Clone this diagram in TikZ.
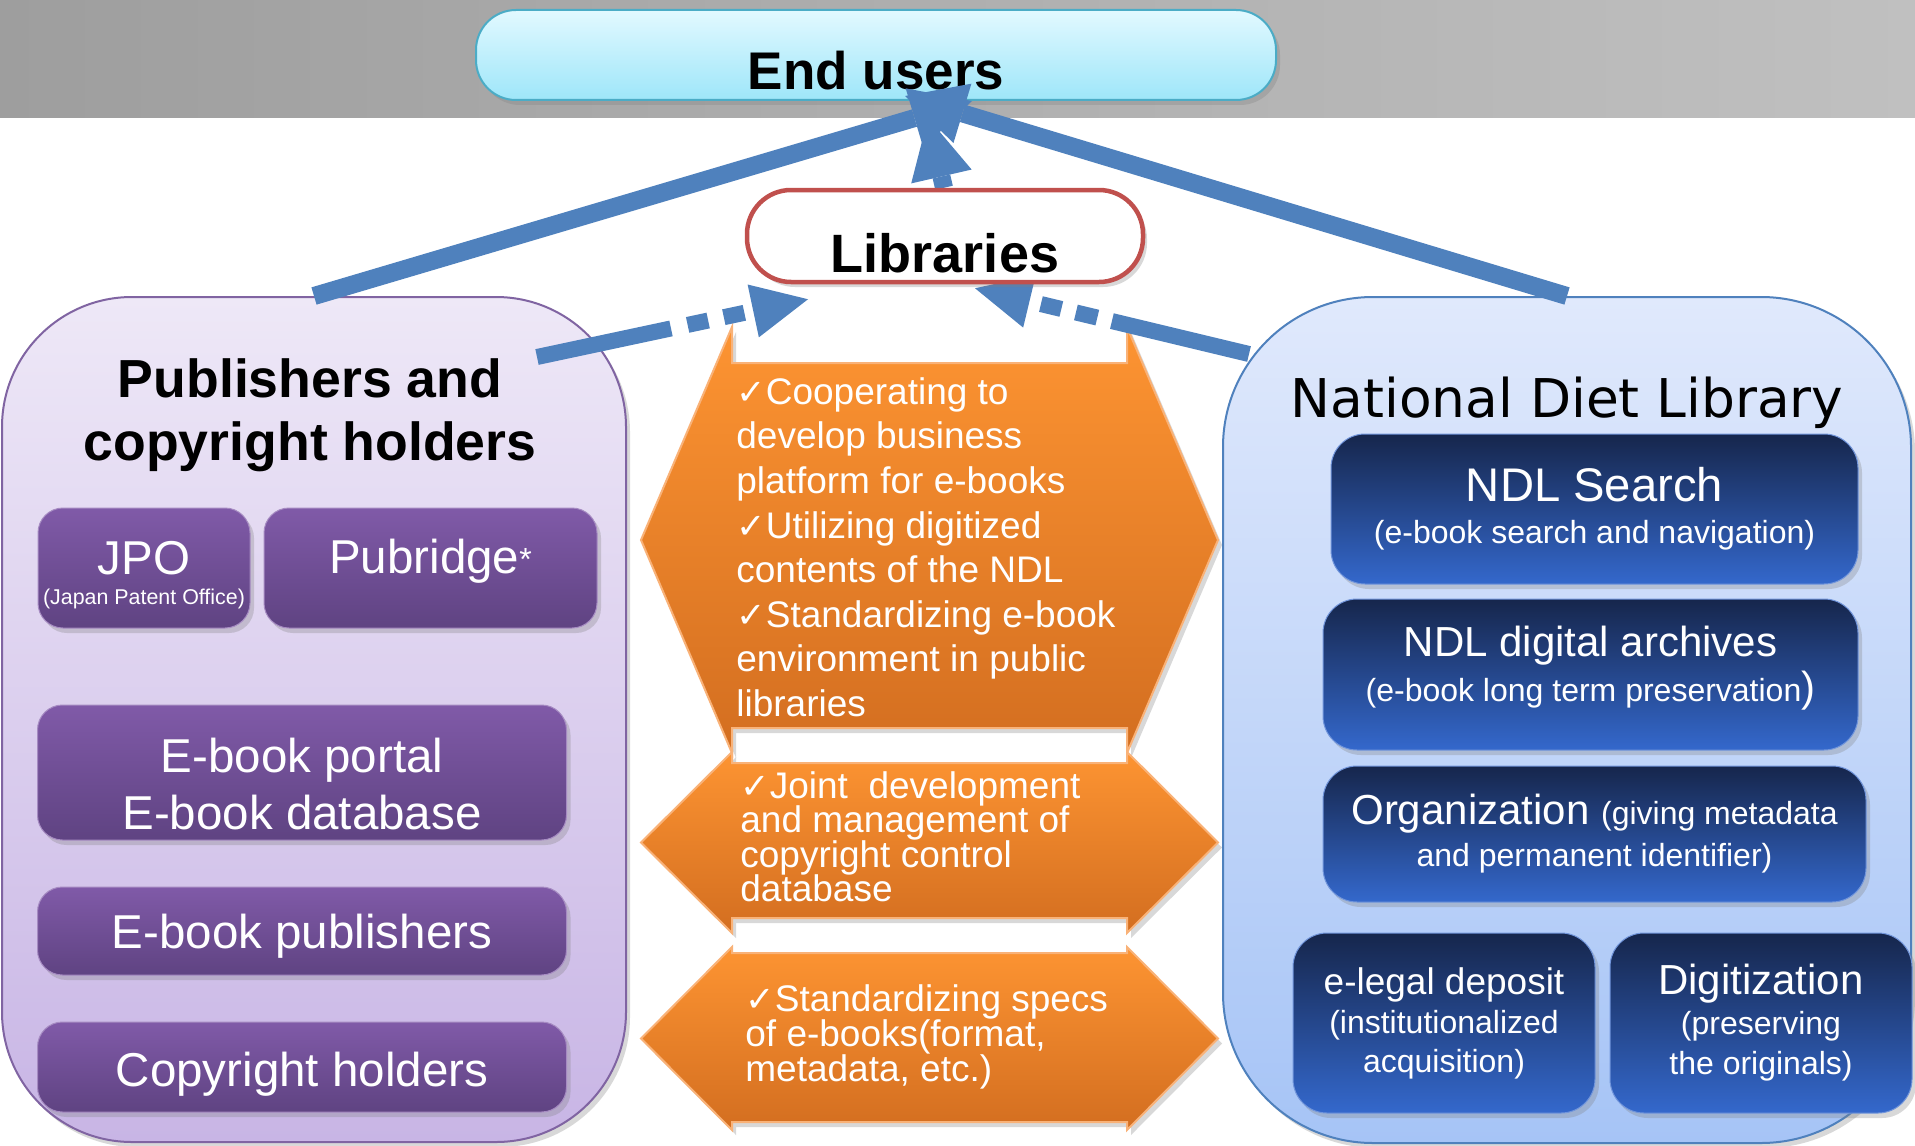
\documentclass[tikz,border=0pt]{standalone}
\usepackage{fontspec}
\setmainfont{Liberation Sans}
\newfontfamily\ndlfont{DejaVu Sans}
\newfontfamily\tickfont[Scale=0.95]{DejaVu Sans}
\usetikzlibrary{arrows.meta,shadows,calc}
\definecolor{bandleft}{RGB}{158,158,158}
\definecolor{bandright}{RGB}{192,192,192}
\definecolor{usertop}{RGB}{226,249,255}
\definecolor{userbot}{RGB}{158,230,249}
\definecolor{useredge}{RGB}{75,172,198}
\definecolor{libred}{RGB}{192,80,77}
\definecolor{linkblue}{RGB}{79,129,189}
\definecolor{pubtop}{RGB}{238,232,247}
\definecolor{pubbot}{RGB}{200,181,229}
\definecolor{pubedge}{RGB}{128,100,162}
\definecolor{purpletop}{RGB}{128,90,168}
\definecolor{purplebot}{RGB}{95,67,130}
\definecolor{ndltop}{RGB}{224,233,252}
\definecolor{ndlbot}{RGB}{166,196,246}
\definecolor{navytop}{RGB}{22,38,76}
\definecolor{navybot}{RGB}{52,104,204}
\definecolor{orangetop}{RGB}{253,148,50}
\definecolor{orangebot}{RGB}{211,110,32}
\definecolor{orangeedge}{RGB}{249,178,120}
\newcommand{\fs}[2]{\fontsize{#1}{#2}\selectfont}
\newcommand{\tick}{{\tickfont ✓}}
\setlength{\lineskiplimit}{-50pt}
\pgfdeclarelayer{front}
\pgfsetlayers{main,front}

\begin{document}
\begin{tikzpicture}[x=0.5pt,y=-0.5pt,
  softshadow/.style={drop shadow={shadow xshift=2pt,shadow yshift=-2.5pt,opacity=0.3}},
  pubpanel/.style={draw=pubedge,line width=1pt,rounded corners=65pt,top color=pubtop,bottom color=pubbot,minimum width=312pt,minimum height=422.5pt,softshadow},
  ndlpanel/.style={draw=linkblue,line width=1pt,rounded corners=75pt,top color=ndltop,bottom color=ndlbot,minimum width=344pt,minimum height=423pt,softshadow},
  purplebox/.style={rounded corners=12.5pt,top color=purpletop,bottom color=purplebot,draw=purpletop!70!white,line width=0.5pt,text=white,align=center,inner sep=0pt,softshadow,font=\fs{23.75}{28.5}},
  navybox/.style={rounded corners=17pt,top color=navytop,bottom color=navybot,draw=navybot!70!white,line width=0.5pt,text=white,align=center,inner sep=0pt,softshadow},
  userbox/.style={draw=useredge,line width=1pt,rounded corners=20pt,top color=usertop,bottom color=userbot,minimum width=400pt,minimum height=45pt,inner sep=0pt,text height=35pt,text depth=0pt,font=\bfseries\fs{26.5}{30},softshadow},
  libbox/.style={draw=libred,line width=2.25pt,fill=white,rounded corners=22pt,minimum width=198pt,minimum height=46pt,inner sep=0pt,text height=36pt,text depth=0pt,font=\bfseries\fs{27}{30},softshadow},
  bigarrow/.style={linkblue,line width=9pt,-{Triangle[length=30pt,width=31pt,line width=0pt]}},
  dasharrow/.style={linkblue,line width=8pt,-{Triangle[length=28pt,width=27pt,line width=0pt]}},
  orangeblock/.style={top color=orangetop,bottom color=orangebot,draw=orangeedge,line width=1pt,softshadow},
  orangetext/.style={text=white,align=left,anchor=north west,inner sep=0pt}]
\useasboundingbox (0,0) rectangle (1915,1145);
\fill[white] (0,0) rectangle (1915,1145);
\shade[left color=bandleft,right color=bandright] (0,0) rectangle (1915,118);

% the two sides
\node[pubpanel] (pubs) at (314,719.5) {};
\node[ndlpanel] (ndl) at (1567,720) {};

\node[align=center,inner sep=0pt,font=\bfseries\fs{26.8}{31.5}] (pubtitle) at (310,415) {Publishers and\\copyright holders};
\node[purplebox,minimum width=106pt,minimum height=60pt,font=\fs{23.75}{15}] (jpo) at (144,568) {\rule{0pt}{23.3pt}JPO\\{\fs{10.7}{15}(Japan Patent Office)}};
\node[purplebox,minimum width=166.5pt,minimum height=60pt,text height=17.4pt,text depth=12.4pt] (pubridge) at (430.5,568) {Pubridge{\fs{16}{16}\raisebox{1.5pt}{*}}};
\node[purplebox,minimum width=264.5pt,minimum height=67.5pt] (portal) at (302,772.5) {\rule{0pt}{28.5pt}E-book portal\\E-book database};
\node[purplebox,minimum width=264.5pt,minimum height=44pt,text depth=0pt] (epub) at (302,931) {E-book publishers};
\node[purplebox,minimum width=264.5pt,minimum height=45pt,text height=19pt,text depth=0pt] (holders) at (302,1067) {Copyright holders};

\node[anchor=base,inner sep=0pt,font=\ndlfont\fs{26.7}{30}] (ndltitle) at (1567,417) {National Diet Library};
\node[navybox,minimum width=263.5pt,minimum height=75pt,font=\fs{23.6}{21}] (search) at (1594.5,509) {NDL Search\\{\fs{16}{21}(e-book search and navigation)}};
\node[navybox,minimum width=267.5pt,minimum height=75.5pt,font=\fs{21}{22.5}] (archives) at (1590.5,674.5) {NDL digital archives\\{\fs{16}{22.5}(e-book long term preservation})\rule[-10.5pt]{0pt}{10.5pt}};
\node[navybox,minimum width=271.5pt,minimum height=68pt,font=\fs{21}{21}] (organize) at (1594.5,834) {Organization {\fs{16}{21}(giving metadata}\\{\fs{16}{21}and permanent identifier)}};
\node[navybox,minimum width=151pt,minimum height=90pt,font=\fs{16}{19.5}] (deposit) at (1444,1023) {{\fs{18.5}{19.5}e-legal deposit}\\(institutionalized\\acquisition)};
\node[navybox,minimum width=151pt,minimum height=90pt,font=\fs{16}{20}] (digitize) at (1761,1023) {{\fs{21}{20}Digitization}\\(preserving\\the originals)};

% cooperation in the middle
\draw[orangeblock] (732,363) -- (1127,363) -- (1127,327) -- (1218,540) -- (1127,753) -- (1127,728) -- (732,728) -- (732,753) -- (641,540) -- (732,327) -- cycle;
\draw[orangeblock] (732,763) -- (1127,763) -- (1127,752) -- (1218,842.5) -- (1127,933) -- (1127,918) -- (732,918) -- (732,933) -- (641,842.5) -- (732,752) -- cycle;
\draw[orangeblock] (732,953) -- (1127,953) -- (1127,947) -- (1218,1038.5) -- (1127,1130) -- (1127,1122) -- (732,1122) -- (732,1130) -- (641,1038.5) -- (732,947) -- cycle;
\node[orangetext,font=\fs{18.5}{22.3}] (coop) at (736,377) {\tick Cooperating to\\develop business\\platform for e-books\\\tick Utilizing digitized\\contents of the NDL\\\tick Standardizing e-book\\environment in public\\libraries};
\node[orangetext,font=\fs{18.5}{17.25}] (joint) at (740,771) {\tick Joint~ development\\and management of\\copyright control\\database};
\node[orangetext,font=\fs{18.5}{17.5}] (specs) at (745,984) {\tick Standardizing specs\\of e-books(format,\\metadata, etc.)};

% users and libraries
\node[userbox] (users) at (876,55) {End users};
\begin{pgfonlayer}{front}
\node[libbox] (libs) at (945,236) {Libraries};
\end{pgfonlayer}

% links
\draw[bigarrow] (pubs.north) -- ($(users.south)+(96,0)$);
\draw[bigarrow] (ndl.north) -- ($(users.south)+(29,-5)$);
\draw[bigarrow] ($(libs.north)+(-1,0)$) -- ($(users.south)+(52,17)$);
\draw[dasharrow,dash pattern=on 68.5pt off 8.5pt on 10.5pt off 8pt on 10.5pt off 30pt] ($(pubs.north east)+(-90,61)$) -- ($(libs.south)+(-137,15)$);
\draw[dasharrow,dash pattern=on 70.5pt off 7.5pt on 11pt off 7.5pt on 10.5pt off 30pt] ($(ndl.north west)+(27,58)$) -- ($(libs.south)+(30,4)$);
\end{tikzpicture}
\end{document}
